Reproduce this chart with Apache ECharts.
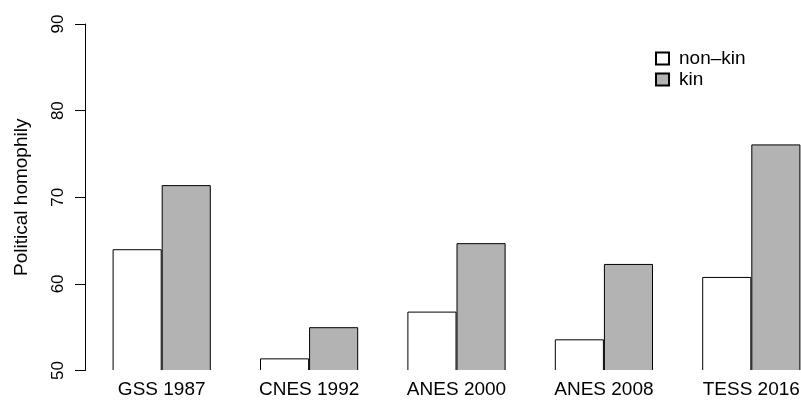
<!DOCTYPE html>
<html>
<head>
<meta charset="utf-8">
<script src="https://cdn.jsdelivr.net/npm/echarts@6/dist/echarts.min.js"></script>
<style>
  html, body { margin: 0; padding: 0; background: #fff; }
  #wrap { width: 801px; height: 407px; overflow: hidden; }
  #chart { width: 825px; height: 407px; }
</style>
</head>
<body>
<div id="wrap"><div id="chart"></div></div>
<script>
// 数据
var surveys = ['GSS 1987', 'CNES 1992', 'ANES 2000', 'ANES 2008', 'TESS 2016'];
var nonKin = [64.0, 51.4, 56.8, 53.6, 60.8];
var kin = [71.4, 55.0, 64.7, 62.3, 76.1];
var yTicks = [50, 60, 70, 80, 90];

var font = "'Liberation Sans', Arial, Helvetica, sans-serif";

var myChart = echarts.init(document.getElementById('chart'));

var option = {
    backgroundColor: '#fff',
    animation: false,
    grid: {
        left: 88,
        top: 24,
        right: 0,
        height: 346.5
    },
    legend: {
        orient: 'vertical',
        left: 655,
        top: 49,
        padding: 0,
        icon: 'rect',
        itemWidth: 13,
        itemHeight: 12,
        itemGap: 2,
        textStyle: {
            fontFamily: font,
            fontSize: 19,
            lineHeight: 19,
            color: '#000',
            padding: [0, 0, 0, 5]
        },
        data: ['non\u2013kin', 'kin']
    },
    xAxis: {
        type: 'category',
        data: surveys,
        axisLine: { show: false },
        axisTick: { show: false },
        axisLabel: {
            margin: 10,
            fontFamily: font,
            fontSize: 19,
            color: '#000'
        }
    },
    yAxis: {
        type: 'value',
        min: yTicks[0],
        max: yTicks[yTicks.length - 1],
        interval: 10,
        offset: 3,
        name: 'Political homophily',
        nameLocation: 'middle',
        nameGap: 54,
        nameRotate: 90,
        nameTextStyle: {
            fontFamily: font,
            fontSize: 19,
            color: '#000'
        },
        splitLine: { show: false },
        axisLine: { show: true, lineStyle: { color: '#000', width: 1 } },
        axisTick: { show: true, length: 10, lineStyle: { color: '#000', width: 1 } },
        axisLabel: {
            rotate: 90,
            margin: 18,
            fontFamily: font,
            fontSize: 17,
            color: '#000'
        }
    },
    series: [
        {
            name: 'non\u2013kin',
            type: 'bar',
            data: nonKin,
            barWidth: 49.1,
            barGap: '0%',
            itemStyle: { color: '#ffffff', borderColor: '#000', borderWidth: 1 }
        },
        {
            name: 'kin',
            type: 'bar',
            data: kin,
            barWidth: 49.1,
            barGap: '0%',
            itemStyle: { color: '#b3b3b3', borderColor: '#000', borderWidth: 1 }
        }
    ],
    // 盖住柱子底边
    graphic: [{
        type: 'rect',
        shape: { x: 95, y: 370, width: 730, height: 4 },
        style: { fill: '#fff' },
        z: 100
    }]
};

myChart.setOption(option);
</script>
</body>
</html>
